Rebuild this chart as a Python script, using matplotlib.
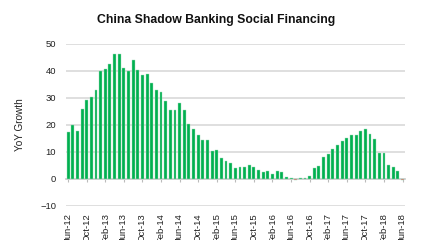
import matplotlib
matplotlib.use("Agg")
import matplotlib.pyplot as plt
import numpy as np

plt.rcParams['font.family'] = ['Liberation Sans', 'DejaVu Sans']

# monthly YoY growth, Jun-12 .. Jun-18
growth = [17.5, 19.8, 17.8, 25.9, 29.4, 30.5, 33.1, 40.0, 40.6, 42.5,
          46.2, 46.2, 41.0, 40.0, 44.1, 40.2, 38.5, 38.9, 35.6, 33.1,
          32.2, 28.7, 25.6, 25.6, 28.1, 25.4, 20.4, 18.4, 16.4, 14.4,
          14.6, 10.4, 10.8, 7.9, 6.6, 6.0, 4.1, 4.4, 4.4, 5.0,
          4.4, 3.4, 2.5, 2.8, 1.9, 2.8, 2.5, 0.6, 0.4, -0.3,
          0.4, 0.4, 0.9, 4.1, 4.8, 8.2, 9.1, 11.0, 12.4, 14.2,
          15.1, 16.4, 16.1, 17.8, 18.4, 16.6, 14.8, 9.5, 9.5, 5.0,
          4.4, 2.9, -0.5]
tick_labels = ['Jun-12', 'Oct-12', 'Feb-13', 'Jun-13', 'Oct-13', 'Feb-14',
               'Jun-14', 'Oct-14', 'Feb-15', 'Jun-15', 'Oct-15', 'Feb-16',
               'Jun-16', 'Oct-16', 'Feb-17', 'Jun-17', 'Oct-17', 'Feb-18',
               'Jun-18']

green = '#00B050'
red = '#E8534F'
grid_c = '#DCDCDC'
text_c = '#222222'

fig = plt.figure(figsize=(4.33, 2.4), dpi=100)
ax = fig.add_axes([0.152, 0.142, 0.783, 0.675])

x = np.arange(len(growth))
colors = [green if v >= 0 else red for v in growth]
ax.bar(x, growth, width=0.62, color=colors, edgecolor='#9fdcb8', linewidth=0.3, zorder=3)

ax.set_xlim(-0.5, len(growth) - 0.5)
ax.set_ylim(-10, 50)
ax.set_yticks(np.arange(-10, 51, 10))
ax.yaxis.grid(True, color=grid_c, linewidth=1.3, zorder=0)
ax.set_axisbelow(True)

for s in ['top', 'right', 'left']:
    ax.spines[s].set_visible(False)
ax.spines['bottom'].set_position(('data', 0))
ax.spines['bottom'].set_color('#CFCFCF')
ax.spines['bottom'].set_linewidth(1.3)
ax.spines['bottom'].set_zorder(2)

ax.set_xticks(x[::4])
ax.set_xticklabels(tick_labels, rotation=90, va='top', ha='center')
ax.tick_params(axis='x', length=2.5, width=0.8, color='#BBBBBB', pad=22,
               labelsize=6.8, labelcolor=text_c)
ax.tick_params(axis='y', length=0, pad=7, labelsize=6.8, labelcolor=text_c)

ax.set_ylabel('YoY Growth', fontsize=7.2, color=text_c, labelpad=11)
fig.text(0.5, 0.905, 'China Shadow Banking Social Financing', fontsize=8.8,
         fontweight='bold', color='#111111', ha='center', va='baseline')

fig.savefig('out.png', dpi=100)
